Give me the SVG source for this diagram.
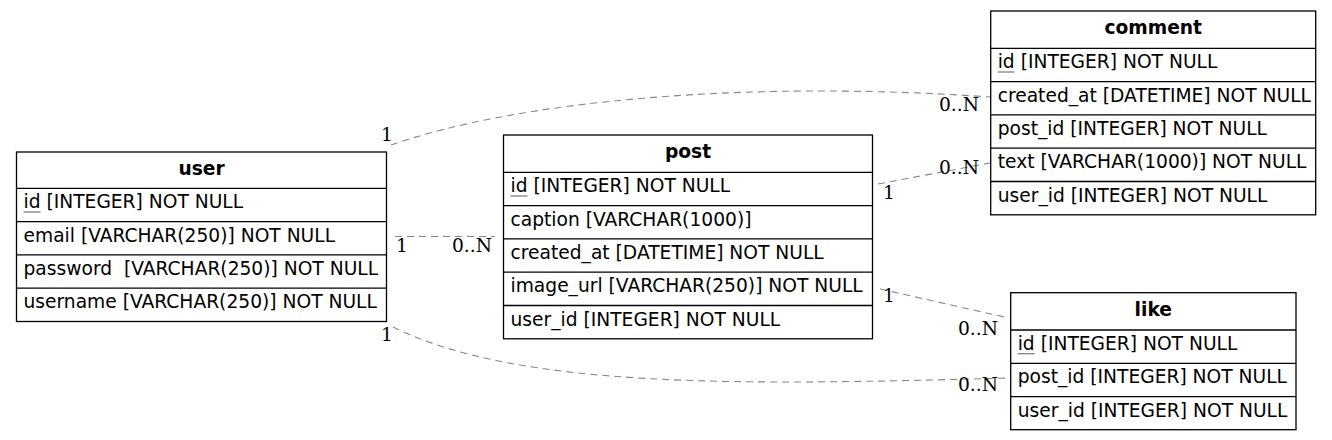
<svg xmlns="http://www.w3.org/2000/svg" width="1332" height="440" viewBox="0 0 1332 440">
<style>
.box{fill:#fff;stroke:#000;stroke-width:1.3}
.div{stroke:#000;stroke-width:1.3}
.hdr{font-family:"DejaVu Sans",sans-serif;font-size:18.67px;font-weight:bold;text-anchor:middle;fill:#000}
.fld{font-family:"DejaVu Sans",sans-serif;font-size:18.67px;fill:#000}
.lbl{font-family:"DejaVu Serif",serif;font-size:18.67px;fill:#000}
.edge{fill:none;stroke:#888;stroke-width:1.1;stroke-dasharray:7,5}
.ul{stroke:#777;stroke-width:1.2}
</style>
<rect width="1332" height="440" fill="#fff"/>
<g id="connectors">
<path class="edge" d="M391,145 C520,100 750,80 990,97"/>
<path class="edge" d="M395,236.5 L495,236.5"/>
<path class="edge" d="M878,184 L990,163"/>
<path class="edge" d="M880,289 L1009,318"/>
<path class="edge" d="M393,327 C520,390 750,385 1009,378"/>
<text class="lbl" x="381" y="141">1</text>
<text class="lbl" x="939" y="111">0..N</text>
<text class="lbl" x="396" y="252">1</text>
<text class="lbl" x="452" y="252">0..N</text>
<text class="lbl" x="883" y="199">1</text>
<text class="lbl" x="939" y="174">0..N</text>
<text class="lbl" x="883" y="302">1</text>
<text class="lbl" x="958" y="335">0..N</text>
<text class="lbl" x="381" y="341">1</text>
<text class="lbl" x="958" y="391">0..N</text>
</g>
<g id="user">
<rect class="box" x="16.5" y="152" width="370" height="169.5"/>
<line class="div" x1="16.5" y1="188.3" x2="386.5" y2="188.3"/>
<line class="div" x1="16.5" y1="221.6" x2="386.5" y2="221.6"/>
<line class="div" x1="16.5" y1="254.9" x2="386.5" y2="254.9"/>
<line class="div" x1="16.5" y1="288.2" x2="386.5" y2="288.2"/>
<text class="hdr" x="201.5" y="175">user</text>
<text class="fld" x="23.5" y="208.3">id [INTEGER] NOT NULL</text>
<line class="ul" x1="23.5" y1="212" x2="40.5" y2="212"/>
<text class="fld" x="23.5" y="241.6">email [VARCHAR(250)] NOT NULL</text>
<text class="fld" x="23.5" y="274.9" xml:space="preserve">password  [VARCHAR(250)] NOT NULL</text>
<text class="fld" x="23.5" y="308.2">username [VARCHAR(250)] NOT NULL</text>
</g>
<g id="post">
<rect class="box" x="503.5" y="135" width="369" height="203.8"/>
<line class="div" x1="503.5" y1="172.3" x2="872.5" y2="172.3"/>
<line class="div" x1="503.5" y1="205.6" x2="872.5" y2="205.6"/>
<line class="div" x1="503.5" y1="238.9" x2="872.5" y2="238.9"/>
<line class="div" x1="503.5" y1="272.2" x2="872.5" y2="272.2"/>
<line class="div" x1="503.5" y1="305.5" x2="872.5" y2="305.5"/>
<text class="hdr" x="688" y="158">post</text>
<text class="fld" x="510.5" y="192.3">id [INTEGER] NOT NULL</text>
<line class="ul" x1="510.5" y1="196" x2="527.5" y2="196"/>
<text class="fld" x="510.5" y="225.6">caption [VARCHAR(1000)]</text>
<text class="fld" x="510.5" y="258.9">created_at [DATETIME] NOT NULL</text>
<text class="fld" x="510.5" y="292.2">image_url [VARCHAR(250)] NOT NULL</text>
<text class="fld" x="510.5" y="325.5">user_id [INTEGER] NOT NULL</text>
</g>
<g id="comment">
<rect class="box" x="990.7" y="11" width="325" height="203.8"/>
<line class="div" x1="990.7" y1="48.3" x2="1315.7" y2="48.3"/>
<line class="div" x1="990.7" y1="81.6" x2="1315.7" y2="81.6"/>
<line class="div" x1="990.7" y1="114.9" x2="1315.7" y2="114.9"/>
<line class="div" x1="990.7" y1="148.2" x2="1315.7" y2="148.2"/>
<line class="div" x1="990.7" y1="181.5" x2="1315.7" y2="181.5"/>
<text class="hdr" x="1153.2" y="34">comment</text>
<text class="fld" x="997.7" y="68.3">id [INTEGER] NOT NULL</text>
<line class="ul" x1="997.7" y1="72" x2="1014.7" y2="72"/>
<text class="fld" x="997.7" y="101.6">created_at [DATETIME] NOT NULL</text>
<text class="fld" x="997.7" y="134.9">post_id [INTEGER] NOT NULL</text>
<text class="fld" x="997.7" y="168.2">text [VARCHAR(1000)] NOT NULL</text>
<text class="fld" x="997.7" y="201.5">user_id [INTEGER] NOT NULL</text>
</g>
<g id="like">
<rect class="box" x="1010.7" y="292.7" width="285.3" height="137"/>
<line class="div" x1="1010.7" y1="330" x2="1296" y2="330"/>
<line class="div" x1="1010.7" y1="363.3" x2="1296" y2="363.3"/>
<line class="div" x1="1010.7" y1="396.6" x2="1296" y2="396.6"/>
<text class="hdr" x="1153.3" y="315.7">like</text>
<text class="fld" x="1017.7" y="350">id [INTEGER] NOT NULL</text>
<line class="ul" x1="1017.7" y1="353.7" x2="1034.7" y2="353.7"/>
<text class="fld" x="1017.7" y="383.3">post_id [INTEGER] NOT NULL</text>
<text class="fld" x="1017.7" y="416.6">user_id [INTEGER] NOT NULL</text>
</g>
</svg>
